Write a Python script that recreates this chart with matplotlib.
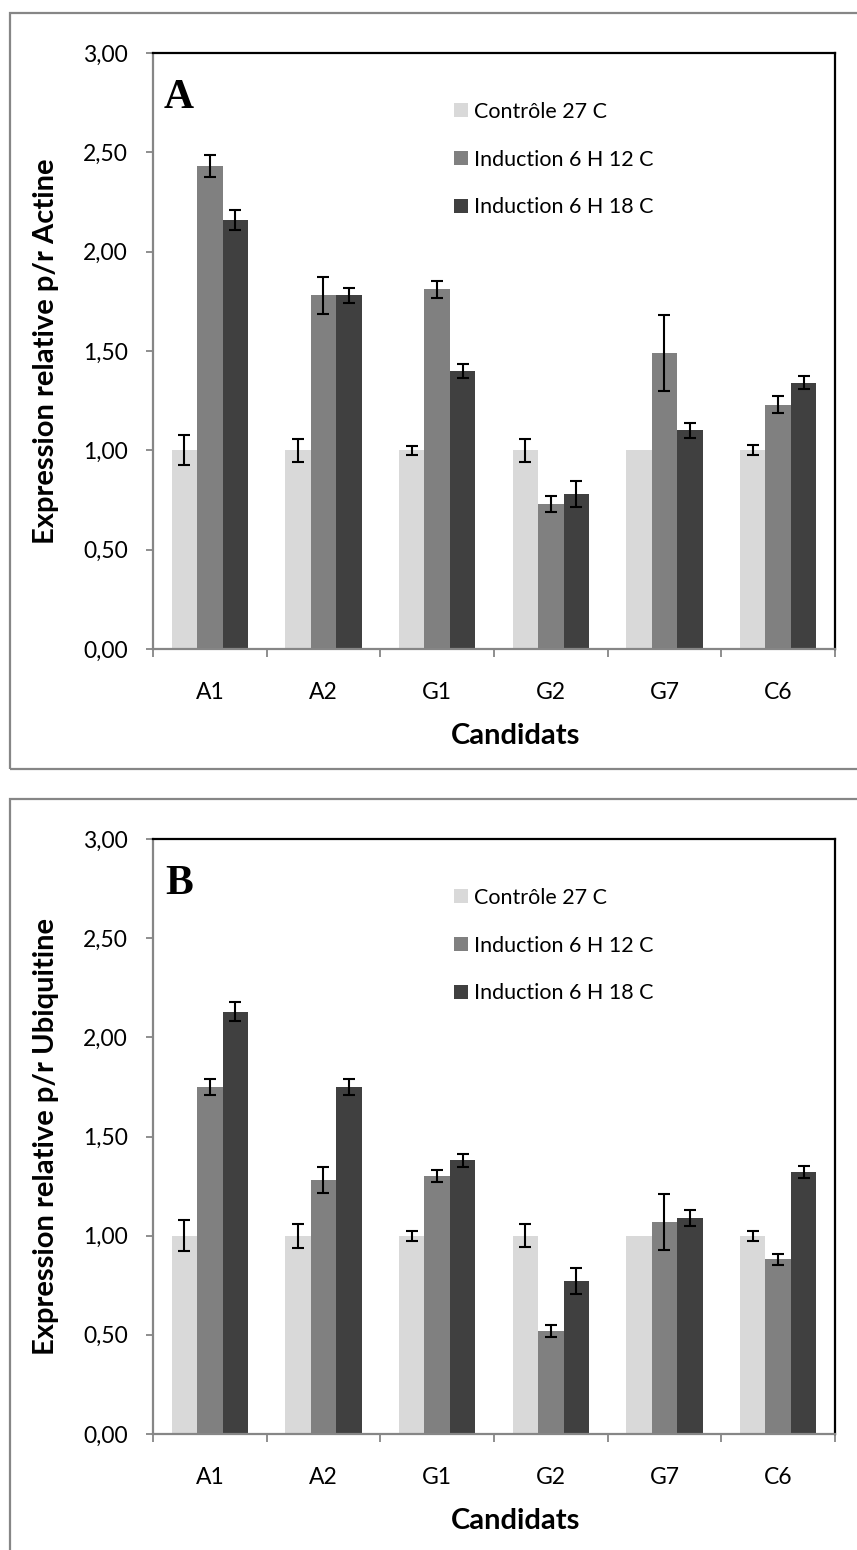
import matplotlib
matplotlib.use("Agg")
import matplotlib.pyplot as plt
import numpy as np
from matplotlib.patches import Rectangle

candidates = ["A1", "A2", "G1", "G2", "G7", "C6"]
series_labels = ["Contrôle 27 C", "Induction 6 H 12 C", "Induction 6 H 18 C"]
series_colors = ["#d9d9d9", "#808080", "#404040"]

# Panel A: expression relative to actin
actine_ctrl = [1.00, 1.00, 1.00, 1.00, 1.00, 1.00]
actine_ctrl_err = [0.075, 0.058, 0.024, 0.058, 0.0, 0.025]
actine_12c = [2.43, 1.78, 1.81, 0.73, 1.49, 1.23]
actine_12c_err = [0.056, 0.092, 0.041, 0.042, 0.19, 0.044]
actine_18c = [2.16, 1.78, 1.40, 0.78, 1.10, 1.34]
actine_18c_err = [0.050, 0.039, 0.034, 0.065, 0.039, 0.032]

# Panel B: expression relative to ubiquitin
ubiq_ctrl = [1.00, 1.00, 1.00, 1.00, 1.00, 1.00]
ubiq_ctrl_err = [0.077, 0.060, 0.025, 0.059, 0.0, 0.026]
ubiq_12c = [1.75, 1.28, 1.30, 0.52, 1.07, 0.88]
ubiq_12c_err = [0.041, 0.067, 0.030, 0.030, 0.14, 0.030]
ubiq_18c = [2.13, 1.75, 1.38, 0.77, 1.09, 1.32]
ubiq_18c_err = [0.050, 0.040, 0.034, 0.065, 0.039, 0.031]

y_ticks = [0.0, 0.5, 1.0, 1.5, 2.0, 2.5, 3.0]
y_tick_labels = ["0,00", "0,50", "1,00", "1,50", "2,00", "2,50", "3,00"]

W, H = 857, 1550
fig = plt.figure(figsize=(W / 100, H / 100), dpi=100)
fig.patch.set_facecolor("white")

SANS = "Lato"
AXIS_GRAY = "#868686"


def px_axes(left, top, right, bottom):
    return fig.add_axes([left / W, (H - bottom) / H, (right - left) / W, (bottom - top) / H])


def panel(ax, letter, ylabel, series, errors):
    x = np.arange(len(candidates))
    bw = 0.223
    for i, (vals, errs) in enumerate(zip(series, errors)):
        xpos = x + (i - 1) * bw
        ax.bar(xpos, vals, width=bw, color=series_colors[i],
               label=series_labels[i], edgecolor="none", zorder=2)
        errs = np.asarray(errs)
        has_err = errs > 0
        ax.errorbar(xpos[has_err], np.asarray(vals)[has_err], yerr=errs[has_err],
                    fmt="none", ecolor="black", elinewidth=1.5, capsize=4.3,
                    capthick=1.5, zorder=3)
    ax.set_xlim(-0.5, len(candidates) - 0.5)
    ax.set_ylim(0, 3.0)
    ax.set_yticks(y_ticks)
    ax.set_yticklabels(y_tick_labels, fontsize=16.5, family=SANS)
    ax.set_xticks(x)
    ax.set_xticklabels(candidates, fontsize=16.5, family=SANS)
    ax.set_xticks(np.arange(len(candidates) + 1) - 0.5, minor=True)
    ax.tick_params(axis="x", which="major", length=0, pad=24)
    ax.tick_params(axis="x", which="minor", length=6, width=1.3, color=AXIS_GRAY)
    ax.tick_params(axis="y", which="major", length=5, width=1.3, color=AXIS_GRAY, pad=13)
    for side in ("left", "bottom"):
        ax.spines[side].set_color(AXIS_GRAY)
        ax.spines[side].set_linewidth(1.6)
    for side in ("top", "right"):
        ax.spines[side].set_color("black")
        ax.spines[side].set_linewidth(1.6)
    ax.set_ylabel(ylabel, fontsize=21, fontweight="bold", family=SANS)
    ax.yaxis.set_label_coords(-0.138, 0.5)
    ax.set_xlabel("Candidats", fontsize=21, fontweight="bold", family=SANS)
    ax.xaxis.set_label_coords(0.532, -0.125)
    ax.text(0.038, 0.924, letter, transform=ax.transAxes, ha="center", va="center",
            fontsize=30, fontweight="bold", family="Liberation Serif")
    ax.legend(loc="upper left", bbox_to_anchor=(0.441, 0.918), frameon=False,
              prop={"family": SANS, "size": 15.5}, handlelength=0.64, handleheight=0.64,
              handletextpad=0.3, labelspacing=1.29, borderpad=0, borderaxespad=0)


# Outer frames of the two panels
for top, bottom in ((13, 769), (799, 1560)):
    fig.patches.append(Rectangle((10 / W, (H - bottom) / H), (W + 20) / W, (bottom - top) / H,
                                 transform=fig.transFigure, fill=False,
                                 edgecolor=AXIS_GRAY, linewidth=1.6))

ax_a = px_axes(153, 53, 835, 649)
panel(ax_a, "A", "Expression relative p/r Actine",
      [actine_ctrl, actine_12c, actine_18c],
      [actine_ctrl_err, actine_12c_err, actine_18c_err])

ax_b = px_axes(153, 839, 835, 1434)
panel(ax_b, "B", "Expression relative p/r Ubiquitine",
      [ubiq_ctrl, ubiq_12c, ubiq_18c],
      [ubiq_ctrl_err, ubiq_12c_err, ubiq_18c_err])

fig.savefig("out.png", dpi=100, facecolor="white")
